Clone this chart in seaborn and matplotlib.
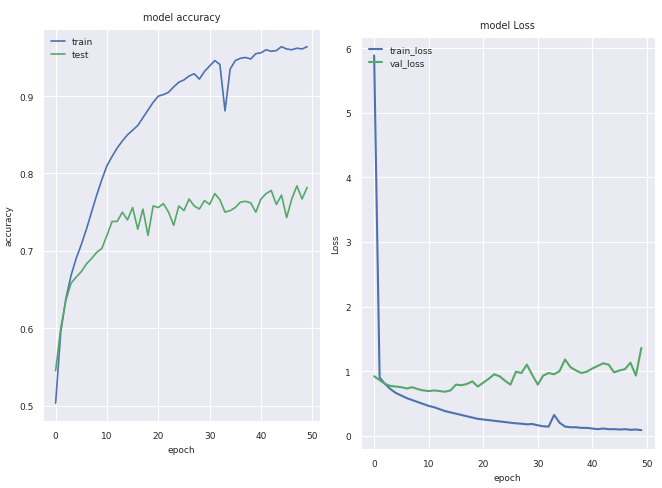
import numpy as np
import pandas as pd
import seaborn as sns
import matplotlib
matplotlib.use("Agg")
import matplotlib.pyplot as plt

sns.set_style("darkgrid")

# values, one per epoch (0..49)
train_acc = [0.503, 0.595, 0.638, 0.668, 0.690, 0.708, 0.728, 0.750, 0.772, 0.792,
             0.810, 0.822, 0.833, 0.842, 0.850, 0.856, 0.862, 0.872, 0.882, 0.892,
             0.900, 0.902, 0.905, 0.912, 0.918, 0.921, 0.926, 0.929, 0.922, 0.932,
             0.939, 0.946, 0.941, 0.881, 0.935, 0.946, 0.949, 0.950, 0.948, 0.955,
             0.956, 0.960, 0.958, 0.959, 0.964, 0.961, 0.960, 0.962, 0.961, 0.964]
val_acc = [0.545, 0.600, 0.636, 0.658, 0.666, 0.673, 0.683, 0.690, 0.698, 0.703,
           0.720, 0.738, 0.738, 0.750, 0.740, 0.756, 0.728, 0.754, 0.720, 0.758,
           0.756, 0.761, 0.750, 0.733, 0.758, 0.752, 0.767, 0.758, 0.754, 0.765,
           0.760, 0.774, 0.766, 0.750, 0.752, 0.756, 0.763, 0.764, 0.762, 0.750,
           0.767, 0.774, 0.778, 0.760, 0.772, 0.743, 0.767, 0.784, 0.767, 0.782]
train_loss = [5.89, 0.90, 0.80, 0.72, 0.66, 0.62, 0.58, 0.55, 0.52, 0.49,
              0.46, 0.44, 0.41, 0.38, 0.36, 0.34, 0.32, 0.30, 0.28, 0.26,
              0.25, 0.24, 0.23, 0.22, 0.21, 0.20, 0.19, 0.185, 0.175, 0.18,
              0.16, 0.145, 0.14, 0.32, 0.20, 0.14, 0.13, 0.13, 0.12, 0.12,
              0.11, 0.10, 0.11, 0.10, 0.10, 0.095, 0.10, 0.09, 0.095, 0.085]
val_loss = [0.92, 0.86, 0.80, 0.77, 0.76, 0.75, 0.73, 0.75, 0.72, 0.70,
            0.69, 0.70, 0.69, 0.68, 0.70, 0.79, 0.78, 0.80, 0.84, 0.76,
            0.82, 0.88, 0.95, 0.92, 0.85, 0.79, 0.99, 0.97, 1.10, 0.94,
            0.79, 0.93, 0.97, 0.95, 1.00, 1.18, 1.06, 1.01, 0.97, 0.99,
            1.04, 1.08, 1.12, 1.10, 0.98, 1.01, 1.03, 1.13, 0.93, 1.36]
epochs = np.arange(len(train_acc))

blue = "#4C72B0"
green = "#55A868"

fig = plt.figure(figsize=(6.62, 4.89), dpi=100)
ax1 = fig.add_axes([0.065, 0.137, 0.418, 0.802])
ax2 = fig.add_axes([0.545, 0.080, 0.444, 0.843])

sns.lineplot(x=epochs, y=train_acc, color=blue, label="train", lw=1.2, ax=ax1)
sns.lineplot(x=epochs, y=val_acc, color=green, label="test", lw=1.2, ax=ax1)
ax1.set_title("model accuracy", fontsize=7)
ax1.set_xlabel("epoch", fontsize=6.5)
ax1.set_ylabel("accuracy", fontsize=6.5)

sns.lineplot(x=epochs, y=train_loss, color=blue, label="train_loss", lw=1.5, ax=ax2)
sns.lineplot(x=epochs, y=val_loss, color=green, label="val_loss", lw=1.5, ax=ax2)
ax2.set_title("model Loss", fontsize=7)
ax2.set_xlabel("epoch", fontsize=6.5)
ax2.set_ylabel("Loss", fontsize=6.5)

for ax in (ax1, ax2):
    ax.set_xticks([0, 10, 20, 30, 40, 50])
    ax.tick_params(labelsize=6.5)
    ax.legend(loc="upper left", frameon=False, fontsize=6.5, handlelength=1.5)

fig.savefig("out.png", dpi=100)
